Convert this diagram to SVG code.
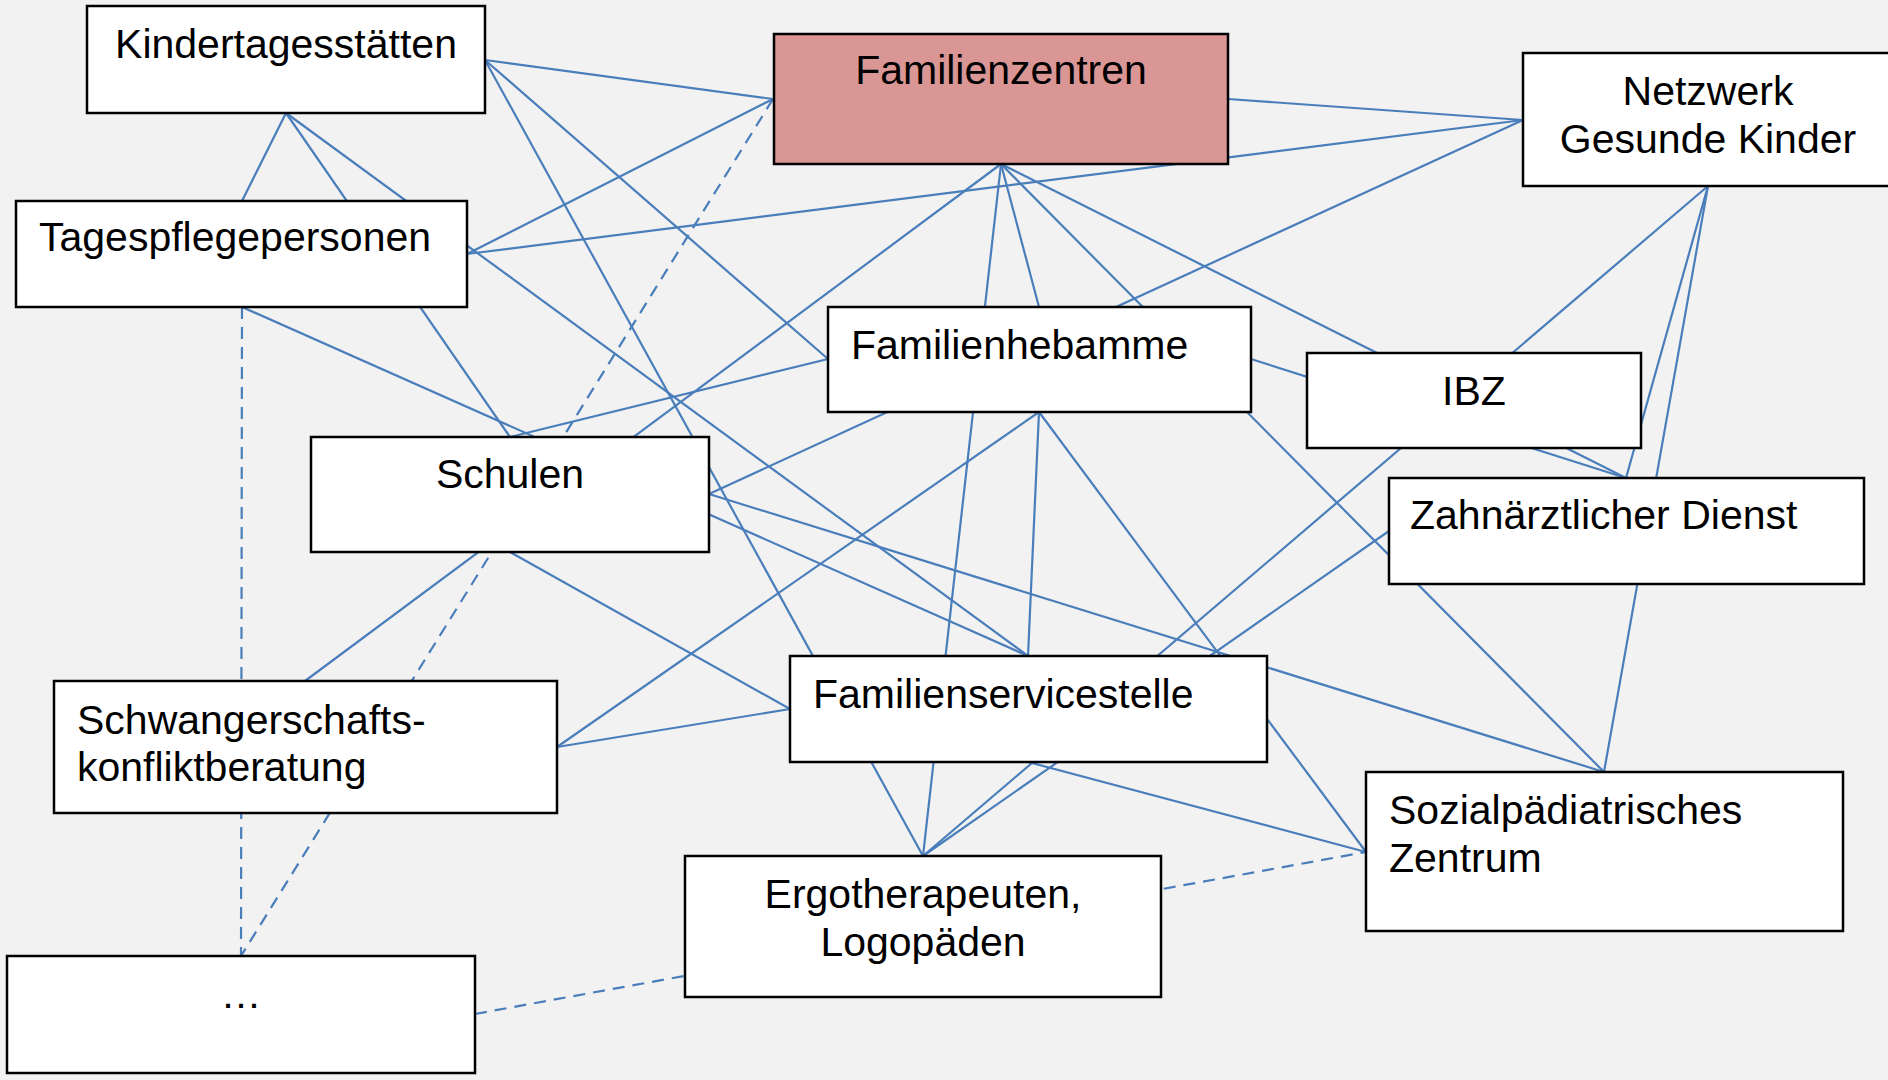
<svg xmlns="http://www.w3.org/2000/svg" width="1888" height="1080" viewBox="0 0 1888 1080">
<style>
.bg{fill:#f2f2f2}
.box{fill:#ffffff;stroke:#000000;stroke-width:2.5}
.hub{fill:#d99694;stroke:#000000;stroke-width:2.5}
.t{font-family:"Liberation Sans",Arial,sans-serif;font-size:41px;fill:#000000}
.m{text-anchor:middle}
#connectors line{stroke:#4a7ebb;stroke-width:2.2;fill:none}
#connectors line.d{stroke-dasharray:12 8}
</style>
<rect class="bg" x="0" y="0" width="1888" height="1080"/>
<g id="connectors">
<line x1="485" y1="60" x2="773" y2="99"/>
<line x1="485" y1="60" x2="828" y2="359"/>
<line x1="485" y1="60" x2="923" y2="856"/>
<line x1="286" y1="113" x2="242" y2="201"/>
<line x1="286" y1="113" x2="510" y2="437"/>
<line x1="286" y1="113" x2="1028" y2="656"/>
<line x1="467" y1="254" x2="773" y2="99"/>
<line x1="467" y1="254" x2="1523" y2="120"/>
<line x1="242" y1="307" x2="1028" y2="656"/>
<line x1="510" y1="437" x2="828" y2="359"/>
<line x1="1001" y1="164" x2="305" y2="681"/>
<line x1="1001" y1="164" x2="1039" y2="307"/>
<line x1="1001" y1="164" x2="923" y2="856"/>
<line x1="1001" y1="164" x2="1604" y2="772"/>
<line x1="1001" y1="164" x2="1626" y2="478"/>
<line x1="1228" y1="99" x2="1523" y2="120"/>
<line x1="1523" y1="120" x2="709" y2="494"/>
<line x1="1708" y1="186" x2="923" y2="856"/>
<line x1="1708" y1="186" x2="1626" y2="478"/>
<line x1="1708" y1="186" x2="1604" y2="772"/>
<line x1="1251" y1="359" x2="1626" y2="478"/>
<line x1="1039" y1="412" x2="1028" y2="656"/>
<line x1="1039" y1="412" x2="1366" y2="852"/>
<line x1="1039" y1="412" x2="557" y2="747"/>
<line x1="709" y1="494" x2="1604" y2="772"/>
<line x1="510" y1="552" x2="790" y2="709"/>
<line x1="1389" y1="531" x2="923" y2="856"/>
<line x1="790" y1="709" x2="557" y2="747"/>
<line x1="1028" y1="762" x2="1366" y2="852"/>
<line class="d" x1="242" y1="307" x2="241" y2="956"/>
<line class="d" x1="773" y1="99" x2="241" y2="956"/>
<line class="d" x1="475" y1="1014" x2="1366" y2="852"/>
</g>
<g id="kita">
<rect class="box" x="87" y="6" width="398" height="107"/>
<text class="t m" x="286" y="58">Kindertagesstätten</text>
</g>
<g id="familienzentren">
<rect class="hub" x="774" y="34" width="454" height="130"/>
<text class="t m" x="1001" y="84">Familienzentren</text>
</g>
<g id="netzwerk">
<rect class="box" x="1523" y="53" width="380" height="133"/>
<text class="t m" x="1708" y="105">Netzwerk</text>
<text class="t m" x="1708" y="153">Gesunde Kinder</text>
</g>
<g id="tagespflege">
<rect class="box" x="16" y="201" width="451" height="106"/>
<text class="t" x="39" y="251">Tagespflegepersonen</text>
</g>
<g id="familienhebamme">
<rect class="box" x="828" y="307" width="423" height="105"/>
<text class="t" x="851" y="359">Familienhebamme</text>
</g>
<g id="ibz">
<rect class="box" x="1307" y="353" width="334" height="95"/>
<text class="t m" x="1474" y="405">IBZ</text>
</g>
<g id="schulen">
<rect class="box" x="311" y="437" width="398" height="115"/>
<text class="t m" x="510" y="488">Schulen</text>
</g>
<g id="zahnarzt">
<rect class="box" x="1389" y="478" width="475" height="106"/>
<text class="t" x="1410" y="529">Zahnärztlicher Dienst</text>
</g>
<g id="familienservicestelle">
<rect class="box" x="790" y="656" width="477" height="106"/>
<text class="t" x="813" y="708">Familienservicestelle</text>
</g>
<g id="schwangerschaft">
<rect class="box" x="54" y="681" width="503" height="132"/>
<text class="t" x="77" y="734">Schwangerschafts-</text>
<text class="t" x="77" y="781">konfliktberatung</text>
</g>
<g id="sozialpaed">
<rect class="box" x="1366" y="772" width="477" height="159"/>
<text class="t" x="1389" y="824">Sozialpädiatrisches</text>
<text class="t" x="1389" y="872">Zentrum</text>
</g>
<g id="ergo">
<rect class="box" x="685" y="856" width="476" height="141"/>
<text class="t m" x="923" y="908">Ergotherapeuten,</text>
<text class="t m" x="923" y="956">Logopäden</text>
</g>
<g id="weitere">
<rect class="box" x="7" y="956" width="468" height="117"/>
<text class="t m" x="241" y="1008">…</text>
</g>
</svg>
